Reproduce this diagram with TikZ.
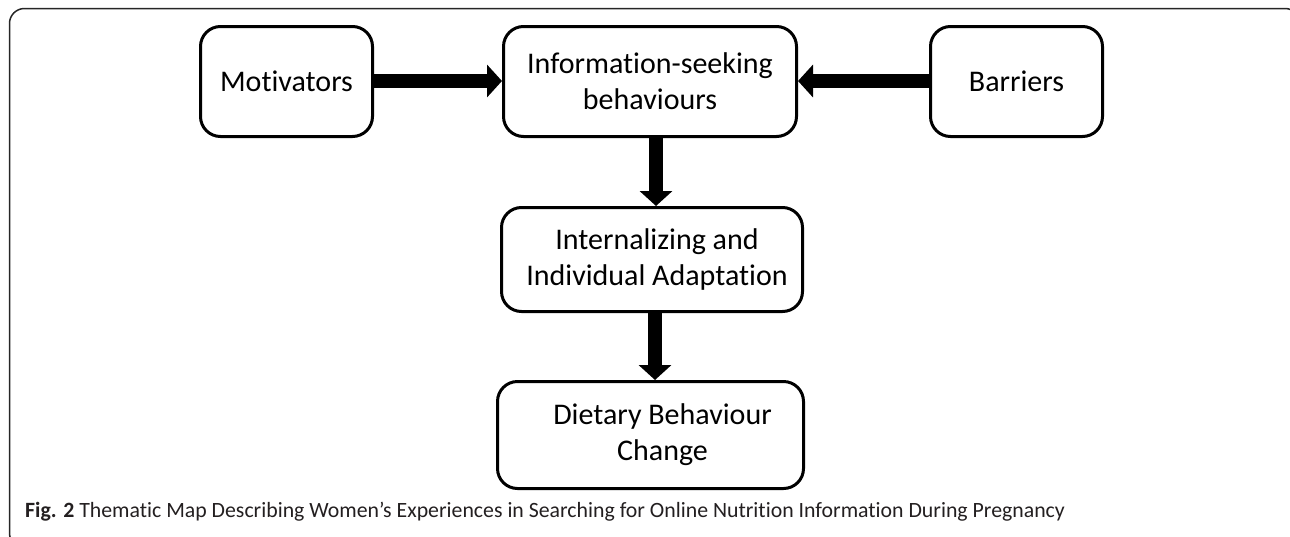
\documentclass[tikz,border=0pt]{standalone}
\usepackage{fontspec}
\setmainfont[Ligatures={NoCommon}]{Carlito}
\usetikzlibrary{arrows.meta}
\definecolor{captext}{HTML}{231F20}
\tikzset{
  themebox/.style={draw=black, line width=3pt, rounded corners=20pt, fill=white,
    align=center, font=\fontsize{30}{36}\selectfont, inner sep=0pt},
  bigarrow/.style={line width=14pt, -{Triangle[width=32pt,length=15pt]}},
}
\begin{document}
\begin{tikzpicture}[x=1pt,y=-1pt]
\useasboundingbox (0,0) rectangle (1290,536);
\begin{scope}
\clip (0,0) rectangle (1290,536);
\draw[line width=1.5pt, draw=black!85, rounded corners=15pt] (9.5,8.5) rectangle (1300,548);
\end{scope}
\node[themebox, minimum width=172pt, minimum height=110pt] (mot) at (286.5,81.5) {Motivators};
\node[themebox, minimum width=293pt, minimum height=110pt] (info) at (650,81.5) {Information-seeking\\behaviours};
\node[themebox, minimum width=172pt, minimum height=110pt] (bar) at (1016.5,81.5) {Barriers};
\node[themebox, minimum width=301pt, minimum height=104pt] (intern) at (652,259.5) {\hspace*{10pt}Internalizing and\\\hspace*{10pt}Individual Adaptation};
\node[themebox, minimum width=306pt, minimum height=107pt] (diet) at (650.5,435) {\hspace*{24pt}Dietary Behaviour\\\hspace*{24pt}Change};
\coordinate (ax1) at (656,0);
\coordinate (ax2) at (655,0);
\draw[bigarrow] ([yshift=0.5pt]mot.east) -- ([yshift=0.5pt]info.west);
\draw[bigarrow] ([yshift=0.5pt]bar.west) -- ([yshift=0.5pt]info.east);
\draw[bigarrow] (info.south -| ax1) -- (intern.north -| ax1);
\draw[bigarrow] (intern.south -| ax2) -- (diet.north -| ax2);
\node[anchor=base west, inner sep=0pt, text=captext, font=\fontsize{21.8}{26}\selectfont] (cap) at (25,517) {\textbf{Fig. 2} Thematic Map Describing Women’s Experiences in Searching for Online Nutrition Information During Pregnancy};
\end{tikzpicture}
\end{document}
